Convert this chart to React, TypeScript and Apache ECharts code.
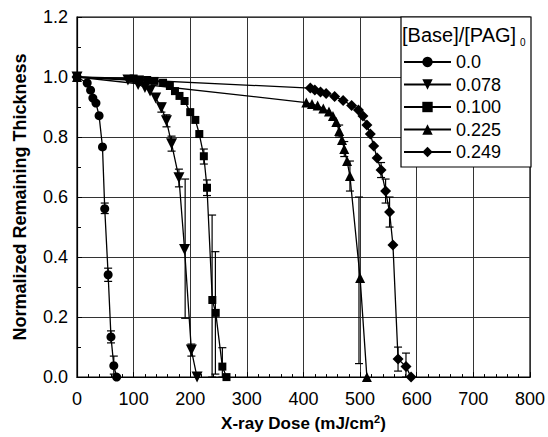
import React, { useEffect, useRef } from "react";
import * as echarts from "echarts";

const FONT = '"Liberation Sans", Arial, sans-serif';

const xTicks = { min: 0, max: 800, interval: 100 };
const yTicks = { min: 0, max: 1.2, interval: 0.2 };

const seriesNames = ["0.0", "0.078", "0.100", "0.225", "0.249"];

const s000: number[][] = [
  [0, 1.0], [18, 0.98], [24, 0.956], [28, 0.93], [33.5, 0.913], [39, 0.871],
  [45, 0.767], [49, 0.561], [55, 0.341], [60, 0.134], [65, 0.038], [70, 0.0],
];
const s078: number[][] = [
  [0, 1.0], [90, 0.99], [108, 0.975], [120, 0.965], [129, 0.953], [139, 0.93],
  [149, 0.898], [158, 0.854], [167, 0.778], [180, 0.664], [190, 0.425],
  [202, 0.09], [212, 0.0],
];
const s100: number[][] = [
  [0, 1.0], [100, 0.995], [111, 0.992], [124, 0.99], [137, 0.987], [152, 0.981],
  [164, 0.97], [173, 0.953], [181, 0.937], [190, 0.92], [200, 0.883],
  [209, 0.857], [216, 0.81], [224, 0.736], [229.6, 0.631], [239, 0.257],
  [245, 0.214], [256.7, 0.035], [264, 0.0],
];
const s225: number[][] = [
  [0, 1.0], [405, 0.915], [415, 0.91], [425, 0.905], [435, 0.895], [445, 0.885],
  [452, 0.87], [458, 0.85], [463, 0.82], [468, 0.79], [472, 0.76], [477, 0.72],
  [482, 0.67], [500, 0.33], [512, 0.0],
];
const s249: number[][] = [
  [0, 1.0], [412, 0.963], [420, 0.957], [430, 0.95], [440, 0.945], [455, 0.935],
  [470, 0.922], [485, 0.905], [497, 0.89], [505, 0.87], [512, 0.84], [518, 0.81],
  [524, 0.77], [530, 0.73], [537, 0.69], [545, 0.62], [552, 0.55], [558, 0.44],
  [567, 0.06], [581, 0.035], [590, 0.0],
];

// error bars: [dose, low, high]
const err000: number[][] = [
  [49, 0.545, 0.58], [55, 0.319, 0.363], [60, 0.114, 0.154], [65, 0.01, 0.07],
];
const err078: number[][] = [
  [149, 0.883, 0.913], [158, 0.834, 0.874], [167, 0.753, 0.803],
  [180, 0.634, 0.693], [191, 0.196, 0.66], [202, 0.07, 0.11],
];
const err100: number[][] = [
  [224, 0.71, 0.76], [229.6, 0.605, 0.657], [238.6, 0.0, 0.54],
  [244.4, 0.01, 0.418], [256.7, 0.0, 0.098],
];
const err225: number[][] = [
  [463, 0.8, 0.84], [472, 0.735, 0.785], [482, 0.62, 0.72], [498, 0.045, 0.6],
];
const err249: number[][] = [
  [537, 0.665, 0.715], [545, 0.58, 0.66], [552, 0.5, 0.6], [567, 0.02, 0.1],
  [581, 0.0, 0.08],
];

const seriesData = [s000, s078, s100, s225, s249];
const errData = [err000, err078, err100, err225, err249];
const symbols = ["circle", "triangle", "rect", "triangle", "diamond"];
const symbolSizes = [9, 11, 8, 10, 11];
const symbolRotates = [0, 180, 0, 0, 0];

export default function App() {
  const ref = useRef<HTMLDivElement>(null);
  useEffect(() => {
    document.body.style.margin = "0";
    const chart = echarts.init(ref.current!, null, { renderer: "svg" });

    const lineSeries = seriesNames.map((name, i) => ({
      name,
      type: "line",
      data: seriesData[i],
      symbol: symbols[i],
      symbolSize: symbolSizes[i],
      symbolRotate: symbolRotates[i],
      showSymbol: true,
      lineStyle: { color: "#000", width: 1.3 },
      itemStyle: { color: "#000" },
      z: 3,
    }));

    const errSeries = errData.map((d) => ({
      type: "custom",
      data: d,
      clip: true,
      z: 3,
      renderItem: (params: any, api: any) => {
        const x = api.value(0);
        const lo = api.coord([x, api.value(1)]);
        const hi = api.coord([x, api.value(2)]);
        const cw = 4;
        const st = { stroke: "#000", lineWidth: 1.2 };
        return {
          type: "group",
          children: [
            { type: "line", shape: { x1: lo[0], y1: lo[1], x2: hi[0], y2: hi[1] }, style: st },
            { type: "line", shape: { x1: hi[0] - cw, y1: hi[1], x2: hi[0] + cw, y2: hi[1] }, style: st },
            { type: "line", shape: { x1: lo[0] - cw, y1: lo[1], x2: lo[0] + cw, y2: lo[1] }, style: st },
          ],
        };
      },
    }));

    chart.setOption({
      animation: false,
      backgroundColor: "#fff",
      grid: {
        left: 77, right: 17, top: 17, bottom: 56,
        show: true, borderColor: "#000", borderWidth: 1.2,
      },
      xAxis: {
        type: "value",
        min: xTicks.min, max: xTicks.max, interval: xTicks.interval,
        name: "X-ray Dose (mJ/cm{sup|2})",
        nameLocation: "middle",
        nameGap: 28,
        nameTextStyle: {
          fontFamily: FONT, fontSize: 17, fontWeight: "bold", color: "#000",
          rich: {
            sup: { fontFamily: FONT, fontSize: 11, fontWeight: "bold", color: "#000", verticalAlign: "top", padding: [0, 0, 10, 0] },
          },
        },
        axisLine: { show: true, lineStyle: { color: "#000", width: 1.2 } },
        axisTick: { show: true, inside: true, length: 5, lineStyle: { color: "#000" } },
        minorTick: { show: true, splitNumber: 5, length: 3, lineStyle: { color: "#000" } },
        axisLabel: { fontFamily: FONT, fontSize: 18, color: "#000", margin: 13 },
        splitLine: { show: true, lineStyle: { color: "#333", width: 1 } },
      },
      yAxis: {
        type: "value",
        min: yTicks.min, max: yTicks.max, interval: yTicks.interval,
        name: "Normalized Remaining Thickness",
        nameLocation: "middle",
        nameGap: 48,
        nameTextStyle: { fontFamily: FONT, fontSize: 18, fontWeight: "bold", color: "#000" },
        axisLine: { show: true, lineStyle: { color: "#000", width: 1.2 } },
        axisTick: { show: true, inside: true, length: 5, lineStyle: { color: "#000" } },
        minorTick: { show: true, splitNumber: 2, length: 4, lineStyle: { color: "#000" } },
        axisLabel: {
          fontFamily: FONT, fontSize: 18, color: "#000", margin: 9,
          formatter: (v: number) => v.toFixed(1),
        },
        splitLine: { show: true, lineStyle: { color: "#333", width: 1 } },
      },
      legend: {
        data: seriesNames,
        orient: "vertical",
        left: 403,
        top: 52,
        padding: 0,
        itemWidth: 47,
        itemHeight: 13,
        itemGap: 2.5,
        lineStyle: { width: 2 },
        textStyle: { fontFamily: FONT, fontSize: 18, color: "#000", lineHeight: 20 },
        z: 6,
      },
      graphic: [
        {
          type: "rect",
          z: 5,
          shape: { x: 401, y: 17, width: 130, height: 150 },
          style: { fill: "#fff", stroke: "#000", lineWidth: 1.2 },
        },
        {
          type: "text",
          z: 6,
          x: 402,
          y: 25,
          style: { text: "[Base]/[PAG]", font: `20px ${FONT}`, fill: "#000" },
        },
        {
          type: "text",
          z: 6,
          x: 520,
          y: 37,
          style: { text: "0", font: `10px ${FONT}`, fill: "#000" },
        },
      ],
      series: [...lineSeries, ...errSeries],
    });
    return () => chart.dispose();
  }, []);
  return <div ref={ref} style={{ width: 548, height: 437 }} />;
}
